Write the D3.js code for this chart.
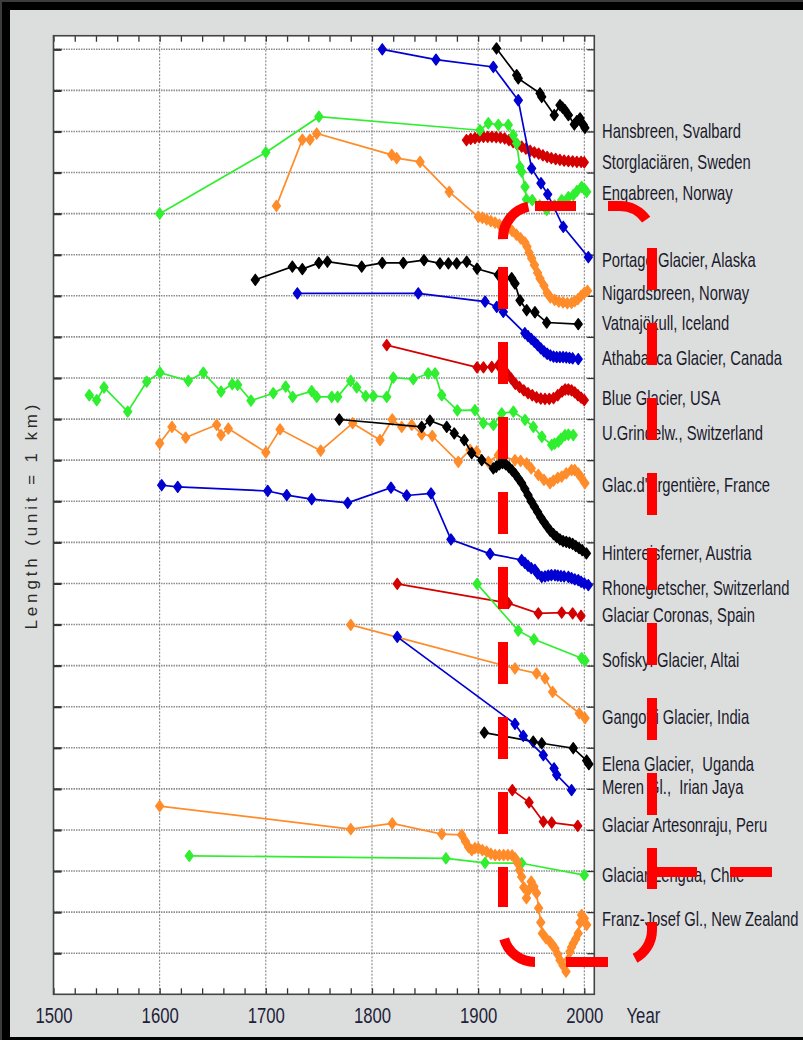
<!DOCTYPE html>
<html>
<head>
<meta charset="utf-8">
<script src="https://cdn.jsdelivr.net/npm/d3@7"></script>
<style>
  html, body { margin: 0; padding: 0; background: #dcdedd; }
  svg { display: block; }
  text { font-family: "Liberation Sans", Arial, sans-serif; }
</style>
</head>
<body>
<div class="canvas"></div>
<script>
// length records, [year, length on the chart in km]
const hansbreen = [[1917.3,23.02],[1936.3,22.37],[1937.8,22.29],[1958.3,21.93],[1959.9,21.84],[1971.7,21.40],[1977.1,21.64],[1979.5,21.58],[1981.8,21.52],[1985,21.40],[1990.6,21.17],[1993,21.25],[1996,21.32],[1999.1,21.16],[2000.6,21.09]];
const storglaciaren = [[1889,20.79],[1893,20.82],[1897,20.84],[1901,20.86],[1905,20.87],[1909,20.87],[1913,20.87],[1917,20.86],[1921,20.85],[1925,20.83],[1929,20.79],[1933,20.74],[1937,20.68],[1941,20.63],[1945,20.58],[1949,20.53],[1953,20.49],[1957,20.46],[1961,20.42],[1965,20.38],[1969,20.35],[1973,20.33],[1977,20.31],[1981,20.29],[1985,20.28],[1989,20.27],[1993,20.26],[1997,20.26],[2000,20.25]];
const engabreen = [[1600,19.0],[1700,20.49],[1750,21.36],[1901.7,21.03],[1909.6,21.20],[1919,21.16],[1928.4,21.16],[1933.1,20.91],[1936.3,20.71],[1939.4,20.14],[1941,20.02],[1944.2,19.65],[1945.5,19.35],[1951,19.33],[1958,19.2],[1964.6,19.09],[1972,19.2],[1978.7,19.33],[1985,19.40],[1989.6,19.45],[1993,19.55],[1997.5,19.65],[2000,19.60],[2002.2,19.53]];
const portage = [[1809.7,23.0],[1860.3,22.75],[1914.3,22.57],[1937.8,21.76],[1950.4,20.10],[1959.2,19.74],[1965.5,19.47],[1980.2,18.68],[2003.8,17.94]];
const nigardsbreen = [[1710,19.19],[1734.4,20.80],[1741.6,20.80],[1747.9,20.95],[1818.6,20.43],[1823.3,20.35],[1845.3,20.26],[1872.8,19.53],[1900.2,18.92],[1904,18.90],[1908,18.86],[1912,18.82],[1916,18.78],[1920,18.73],[1924,18.68],[1928,18.63],[1932,18.58],[1936,18.49],[1940,18.40],[1944,18.30],[1946,18.20],[1948,18.05],[1950.4,17.91],[1953,17.75],[1956,17.56],[1958.3,17.42],[1962,17.25],[1965,17.07],[1968,16.96],[1972,16.90],[1976,16.86],[1980,16.84],[1984,16.82],[1988,16.83],[1991,16.87],[1994,16.92],[1997,17.0],[2000,17.07],[2003,17.12]];
const vatnajokull = [[1690.1,17.39],[1725,17.71],[1734.4,17.65],[1750,17.80],[1758,17.83],[1790.3,17.71],[1809.7,17.80],[1829.5,17.80],[1849,17.87],[1864,17.79],[1872,17.79],[1879.8,17.79],[1889.2,17.83],[1899,17.66],[1919,17.51],[1931.6,17.43],[1934.7,17.30],[1939.4,16.89],[1945.7,16.65],[1953.5,16.60],[1964.6,16.35],[1994.3,16.31]];
const athabasca = [[1729.7,17.06],[1843.6,17.06],[1906.5,16.86],[1917.5,16.73],[1923.7,16.61],[1944,16.09],[1947,16.02],[1950,15.95],[1953,15.88],[1956,15.80],[1959,15.72],[1962,15.65],[1965,15.59],[1968,15.55],[1971,15.52],[1974,15.51],[1977,15.51],[1980,15.51],[1983,15.50],[1986,15.49],[1989,15.48],[1994.3,15.46]];
const blueGlacier = [[1813.9,15.80],[1899,15.26],[1905,15.26],[1912.8,15.27],[1919,15.31],[1923,15.25],[1927,15.12],[1931,14.99],[1935,14.86],[1939,14.78],[1943,14.70],[1947,14.63],[1951,14.58],[1955,14.53],[1959,14.50],[1963,14.49],[1967,14.49],[1971,14.51],[1975,14.58],[1979,14.67],[1982,14.72],[1985,14.72],[1988,14.70],[1991,14.65],[1994,14.58],[1997,14.52],[2000,14.46]];
const grindelwald = [[1533.7,14.58],[1540.7,14.46],[1547.6,14.77],[1569.9,14.18],[1587.8,14.91],[1600.3,15.13],[1627,14.93],[1641.1,15.13],[1657.8,14.67],[1668.4,14.85],[1673.5,14.83],[1686,14.45],[1707,14.63],[1718.7,14.79],[1725.3,14.54],[1743.2,14.68],[1748,14.54],[1762.1,14.54],[1767.7,14.54],[1780,14.93],[1785.6,14.77],[1794.1,14.56],[1801.3,14.56],[1813.9,14.54],[1820.1,15.01],[1838.9,14.97],[1853,15.11],[1859.4,15.11],[1865.7,14.58],[1880.4,14.21],[1897,14.22],[1904.9,13.90],[1914.4,13.86],[1922.2,14.14],[1933.2,14.18],[1944.2,13.98],[1952,13.81],[1960,13.57],[1969.3,13.37],[1972,13.40],[1975.6,13.45],[1978,13.52],[1981.8,13.61],[1985,13.62],[1989.6,13.61]];
const argentiere = [[1600,13.41],[1611.6,13.81],[1624.5,13.55],[1653.7,13.86],[1657.8,13.61],[1664.7,13.77],[1700,13.19],[1713.4,13.75],[1751.7,13.23],[1781.8,13.90],[1807.6,13.49],[1819.1,13.99],[1828,13.81],[1837.4,13.86],[1846.8,13.63],[1856.8,13.59],[1881.3,12.96],[1892.4,13.25],[1898.6,13.21],[1909.6,12.96],[1919,13.12],[1934.7,13.0],[1940,12.98],[1945.7,12.92],[1950,12.80],[1956.7,12.64],[1962,12.52],[1967.7,12.44],[1971,12.50],[1975,12.57],[1978.7,12.60],[1983,12.68],[1988,12.76],[1991,12.76],[1994.3,12.68],[1997,12.58],[2000.6,12.44]];
const hintereis = [[1769.2,13.99],[1846.8,13.81],[1854.6,13.96],[1870.4,13.81],[1877.5,13.65],[1886.9,13.49],[1893.9,13.17],[1903.4,13.0],[1914.3,12.80],[1917,12.84],[1920,12.90],[1923,12.93],[1926,12.90],[1929,12.83],[1932,12.75],[1935,12.66],[1938,12.55],[1941,12.44],[1944,12.30],[1947,12.15],[1950,12.00],[1953,11.87],[1956,11.74],[1959,11.61],[1962,11.49],[1965,11.38],[1968,11.28],[1971,11.20],[1974,11.13],[1977,11.07],[1980,11.03],[1983,11.01],[1986,10.99],[1989,10.96],[1992,10.91],[1995,10.86],[1998,10.81],[2002,10.73]];
const rhone = [[1601.9,12.39],[1617,12.35],[1701.8,12.25],[1719.7,12.15],[1743.2,12.05],[1777.1,11.96],[1817.9,12.33],[1832.7,12.14],[1855.6,12.19],[1874.4,11.07],[1911.2,10.72],[1941,10.57],[1944,10.50],[1947,10.43],[1950,10.37],[1953.5,10.33],[1956,10.24],[1959.9,10.16],[1963,10.17],[1966,10.19],[1969,10.20],[1972.4,10.20],[1975,10.19],[1978,10.18],[1981,10.17],[1985,10.16],[1988,10.13],[1991,10.10],[1994.3,10.08],[1997,10.04],[2000,10.00],[2003.8,9.96]];
const coronas = [[1823.8,9.99],[1928.4,9.52],[1956.7,9.27],[1978.7,9.29],[1989,9.27],[1996.9,9.21]];
const sofisky = [[1899,9.99],[1937.8,8.85],[1952.6,8.64],[1997.5,8.18],[2000.6,8.12]];
const gangotri = [[1780,8.99],[1934.7,7.93],[1955.1,7.81],[1963,7.69],[1970.2,7.36],[1995.3,6.84],[2000.7,6.72]];
const elena = [[1905.8,6.37],[1951.9,6.15],[1959.9,6.11],[1989.6,5.99],[2002.2,5.69],[2004.3,5.60]];
const meren = [[1823.8,8.70],[1934.7,6.58],[1942.5,6.29],[1961.4,5.82],[1971.5,5.50],[1974,5.34],[1988,4.97]];
const artesonraju = [[1932.2,4.97],[1948,4.67],[1961.4,4.20],[1969.3,4.18],[1993.8,4.10]];
const lengua = [[1627.9,3.37],[1869.7,3.31],[1906.5,3.20],[1941,3.19],[2000,2.90]];
const franzJosef = [[1600,4.58],[1780,4.02],[1819.1,4.16],[1865.7,3.90],[1884.5,3.88],[1888,3.72],[1891,3.58],[1894,3.51],[1897,3.56],[1900.2,3.55],[1904,3.51],[1908,3.47],[1912,3.42],[1916,3.39],[1920,3.39],[1924,3.39],[1928,3.39],[1932,3.38],[1935,3.31],[1937,3.20],[1939,3.02],[1941,2.86],[1943,2.60],[1945.5,2.34],[1948,2.55],[1950,2.74],[1952.5,2.62],[1955,2.46],[1957,2.10],[1959,1.75],[1960.5,1.48],[1964,1.36],[1967.6,1.28],[1970,1.20],[1972.4,1.12],[1975,0.97],[1977.1,0.83],[1980,0.70],[1982.8,0.55],[1985,0.85],[1986.5,1.04],[1988,1.15],[1989.6,1.24],[1992,1.35],[1994.3,1.48],[1996,1.75],[1997.5,1.93],[2000,1.85],[2002.2,1.69]];

const glaciers = [
    'Hansbreen, Svalbard', 'Storglaciären, Sweden', 'Engabreen, Norway', 'Portage Glacier, Alaska',
    'Nigardsbreen, Norway', 'Vatnajökull, Iceland', 'Athabasca Glacier, Canada', 'Blue Glacier, USA',
    'U.Grindelw., Switzerland', "Glac.d'Argentière, France", 'Hintereisferner, Austria', 'Rhonegletscher, Switzerland',
    'Glaciar Coronas, Spain', 'Sofiskyi Glacier, Altai', 'Gangotri Glacier, India', 'Elena Glacier,  Uganda',
    'Meren Gl.,  Irian Jaya', 'Glaciar Artesonraju, Peru', 'Glaciar Lengua, Chile', 'Franz-Josef Gl., New Zealand'
];
const records = [
    hansbreen, storglaciaren, engabreen, portage, nigardsbreen, vatnajokull, athabasca, blueGlacier,
    grindelwald, argentiere, hintereis, rhone, coronas, sofisky, gangotri, elena, meren, artesonraju, lengua, franzJosef
];
const colourKeys = ['k','r','g','b','o','k','b','r','g','o','k','b','r','g','o','k','b','r','g','o'];
// label heights on the chart, km
const labelKm = [21.02, 20.26, 19.51, 17.87, 17.07, 16.34, 15.48, 14.52, 13.67, 12.41, 10.75, 9.90, 9.23, 8.14, 6.76, 5.62, 5.05, 4.12, 2.90, 1.85];
const yearTicks = d3.range(1500, 2001, 100);
const minorTicks = d3.range(1500, 2001, 20);
const kmTicks = d3.range(1, 24);

const palette = { k: '#000000', r: '#d40000', g: '#30ee30', b: '#0000d2', o: '#ff8c2a' };

const dims = { width: 803, height: 1040 };
const svg = d3.select('.canvas')
    .append('svg')
    .attr('width', dims.width)
    .attr('height', dims.height)
;

// frame of the photo
svg.append('rect').attr('width', dims.width).attr('height', dims.height).attr('fill', '#dcdedd');
svg.append('rect').attr('width', dims.width).attr('height', 10).attr('fill', '#000');
svg.append('rect').attr('width', 10).attr('height', dims.height).attr('fill', '#000');
svg.append('rect').attr('y', dims.height - 3).attr('width', dims.width).attr('height', 3).attr('fill', '#000');
svg.append('rect').attr('width', dims.width).attr('height', 2).attr('fill', '#3c3c3c');
svg.append('rect').attr('width', 2).attr('height', dims.height).attr('fill', '#3c3c3c');

const x = d3.scaleLinear().domain([1500, 2000]).range([53.5, 584.3]);
const y = d3.scaleLinear().domain([0, 23]).range([994.3, 49.3]);
const xMax = 2009.4, yMax = 23.33;

const box = { l: x(1500), r: x(xMax), t: y(yMax), b: y(0) };

svg.append('rect')
    .attr('x', box.l).attr('y', box.t)
    .attr('width', box.r - box.l).attr('height', box.b - box.t)
    .attr('fill', '#fff')
;

const grid = svg.append('g');
grid.selectAll('line.h').data(kmTicks).enter().append('line')
    .attr('class', 'h')
    .attr('x1', box.l).attr('x2', box.r)
    .attr('y1', d => y(d)).attr('y2', d => y(d))
    .attr('stroke', '#8c8c8c').attr('stroke-width', 1.6).attr('stroke-dasharray', '1.5 1')
;
grid.selectAll('line.v').data(yearTicks.slice(1)).enter().append('line')
    .attr('class', 'v')
    .attr('x1', d => x(d)).attr('x2', d => x(d))
    .attr('y1', box.t).attr('y2', box.b)
    .attr('stroke', '#7a7a7a').attr('stroke-width', 1).attr('stroke-dasharray', '2 1.5')
;

// axes, ticks pointing inwards
const styleAxis = (g) => {
    g.select('.domain').remove();
    g.selectAll('.tick line').attr('stroke', '#333').attr('stroke-width', 1.3);
};
svg.append('g')
    .attr('transform', `translate(0, ${box.b})`)
    .call(d3.axisBottom(x).tickValues(minorTicks).tickSize(-6).tickPadding(13)
        .tickFormat(d => d % 100 === 0 ? d : ''))
    .call(styleAxis)
    .call(g => g.selectAll('text')
        .attr('font-family', '"Liberation Sans", Arial, sans-serif')
        .attr('font-size', 22).attr('fill', '#1f1f3a')
        .attr('transform', 'scale(0.76, 1)'))
;
svg.append('g')
    .attr('transform', `translate(0, ${box.t})`)
    .call(d3.axisTop(x).tickValues(minorTicks).tickSize(-6).tickFormat(''))
    .call(styleAxis)
;
svg.append('g')
    .attr('transform', `translate(${box.l}, 0)`)
    .call(d3.axisLeft(y).tickValues(kmTicks).tickSize(-8).tickFormat(''))
    .call(styleAxis)
    .call(g => g.selectAll('.tick line').attr('stroke-width', 2.2))
;
svg.append('g')
    .attr('transform', `translate(${box.r}, 0)`)
    .call(d3.axisRight(y).tickValues(kmTicks).tickSize(-7).tickFormat(''))
    .call(styleAxis)
;

svg.append('rect')
    .attr('x', box.l).attr('y', box.t)
    .attr('width', box.r - box.l).attr('height', box.b - box.t)
    .attr('fill', 'none').attr('stroke', '#444').attr('stroke-width', 1.6)
;

// glacier records
const line = d3.line().x(d => x(d[0])).y(d => y(d[1]));
const diamond = 'M0,-5.5L4,0L0,5.5L-4,0Z';

const graph = svg.append('g');
records.forEach((pts, i) => {
    const colour = palette[colourKeys[i]];
    const g = graph.append('g');
    g.append('path')
        .attr('d', line(pts))
        .attr('fill', 'none')
        .attr('stroke', colour)
        .attr('stroke-width', 1.7)
    ;
    g.selectAll('path.mark').data(pts).enter().append('path')
        .attr('class', 'mark')
        .attr('d', diamond)
        .attr('transform', d => `translate(${x(d[0])}, ${y(d[1])})`)
        .attr('fill', colour)
        .attr('stroke', colour)
        .attr('stroke-width', 1.3)
        .attr('stroke-linejoin', 'round')
    ;
});

// names at the right
svg.append('g').selectAll('g').data(glaciers).enter().append('g')
    .attr('transform', (d, i) => `translate(602, ${y(labelKm[i])}) scale(0.74, 1)`)
    .append('text')
        .attr('dy', '0.36em')
        .attr('font-size', 20)
        .attr('fill', '#1a1a2c')
        .style('white-space', 'pre')
        .text(d => d)
;

svg.append('g')
    .attr('transform', `translate(626.5, ${box.b + 13}) scale(0.76, 1)`)
    .append('text')
        .attr('dy', '0.71em')
        .attr('font-size', 22)
        .attr('fill', '#1f1f3a')
        .text('Year')
;

svg.append('text')
    .attr('transform', `translate(37, ${(box.t + box.b) / 2 + 2}) rotate(-90)`)
    .attr('text-anchor', 'middle')
    .attr('font-family', '"DejaVu Sans", Verdana, sans-serif')
    .attr('font-size', 17)
    .attr('fill', '#2a2a2a')
    .attr('textLength', 225)
    .attr('lengthAdjust', 'spacing')
    .text('Length (unit = 1 km)')
;

// red dashed outline drawn over the chart
const mark = svg.append('g')
    .attr('fill', 'none')
    .attr('stroke', '#ff0000')
    .attr('stroke-width', 10)
;
const rad = Math.PI / 180;
const ann = { l: 503, r: 652, t: 206, b: 962, rr: 32 };

const sides = [
    [ann.l, 267, ann.l, 907],
    [ann.r, 248, ann.r, 889],
    [535, ann.t, 576, ann.t],
    [566, ann.b, 608, ann.b],
    [ann.r + 3, 872, 772, 872]
];
sides.forEach(s => {
    mark.append('line')
        .attr('x1', s[0]).attr('y1', s[1]).attr('x2', s[2]).attr('y2', s[3])
        .attr('stroke-dasharray', '42 33')
    ;
});

const corners = d3.path();
corners.arc(ann.l + ann.rr, ann.t + ann.rr, ann.rr, 178 * rad, 258 * rad);
corners.moveTo(608, ann.t);
corners.lineTo(ann.r - ann.rr, ann.t);
corners.arc(ann.r - ann.rr, ann.t + ann.rr, ann.rr, 270 * rad, 325 * rad);
corners.moveTo(ann.r, 922);
corners.lineTo(ann.r, ann.b - ann.rr);
corners.arc(ann.r - ann.rr, ann.b - ann.rr, ann.rr, 0, 62 * rad);
corners.moveTo(ann.l + ann.rr + ann.rr * Math.cos(164 * rad), ann.b - ann.rr + ann.rr * Math.sin(164 * rad));
corners.arc(ann.l + ann.rr, ann.b - ann.rr, ann.rr, 164 * rad, 90 * rad, true);
mark.append('path').attr('d', corners.toString());
</script>
</body>
</html>
